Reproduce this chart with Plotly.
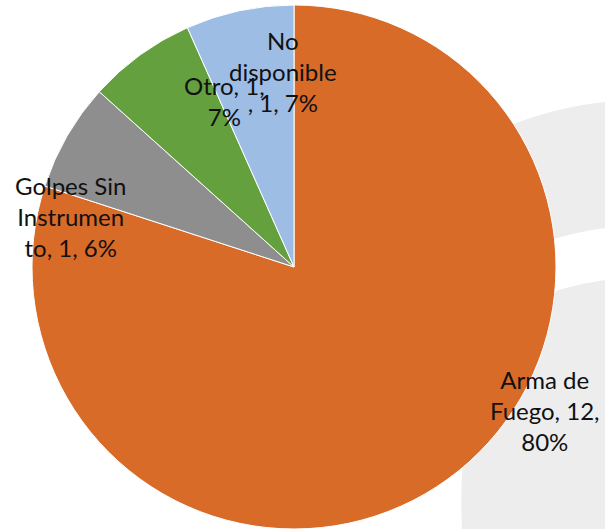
import plotly.graph_objects as go

labels = ["Arma de Fuego", "Golpes Sin Instrumento", "Otro", "No disponible"]
values = [12, 1, 1, 1]
pct_labels = ["80%", "6%", "7%", "7%"]
wrapped_names = ["Arma de<br>Fuego", "Golpes Sin<br>Instrumen<br>to", "Otro", "No<br>disponible<br>"]
colors = ["#D96B29", "#8E8E8E", "#64A03E", "#9DBDE5"]

W, H = 605, 529

def px(x, y):
    return x / W, 1 - y / H

fig = go.Figure()
fig.add_trace(go.Pie(
    labels=labels, values=values, sort=False, direction="clockwise", rotation=0,
    marker=dict(colors=colors, line=dict(color="white", width=1)),
    textinfo="none", hoverinfo="label+value+percent",
    domain=dict(x=[32 / W, 556 / W], y=[0, 1 - 5 / H]),
))

# label positions (pixel centres)
label_pos = [(545, 410), (70, 216), (224, 101), (283, 72)]
texts = [
    f"{wrapped_names[0]}, {values[0]},<br>{pct_labels[0]}",
    f"{wrapped_names[1]}, {values[1]}, {pct_labels[1]}",
    f"{wrapped_names[2]}, {values[2]},<br>{pct_labels[2]}",
    f"{wrapped_names[3]}, {values[3]}, {pct_labels[3]}",
]
for (x, y), t in zip(label_pos, texts):
    ax, ay = px(x, y)
    fig.add_annotation(x=ax, y=ay, xref="paper", yref="paper", text=t, showarrow=False,
                       xanchor="center", yanchor="middle",
                       font=dict(family="Lato", size=24, color="#111111"), align="center")

def path(points):
    s = ""
    for p in points:
        cmd = p[0]
        coords = p[1:]
        conv = []
        for j in range(0, len(coords), 2):
            x, y = px(coords[j], coords[j + 1])
            conv.append(f"{x:.4f},{y:.4f}")
        s += cmd + " " + " ".join(conv) + " "
    return s + "Z"

wm = "#EDEDED"
fig.add_shape(type="path", xref="paper", yref="paper", layer="below", line=dict(width=0), fillcolor=wm,
              path=path([("M", 430, 170), ("Q", 510, 112, 605, 102), ("L", 605, 228), ("Q", 530, 238, 450, 285)]))
fig.add_shape(type="path", xref="paper", yref="paper", layer="below", line=dict(width=0), fillcolor=wm,
              path=path([("M", 462, 529), ("Q", 455, 380, 520, 305), ("Q", 560, 286, 605, 280), ("L", 605, 529)]))

fig.update_layout(
    width=W, height=H, margin=dict(l=0, r=0, t=0, b=0),
    paper_bgcolor="white", plot_bgcolor="white", showlegend=False,
)
fig.update_xaxes(range=[0, 1], visible=False)
fig.write_html("out.html", config={"displayModeBar": False},
               post_script="document.body.style.margin='0px';document.body.style.overflow='hidden';")
